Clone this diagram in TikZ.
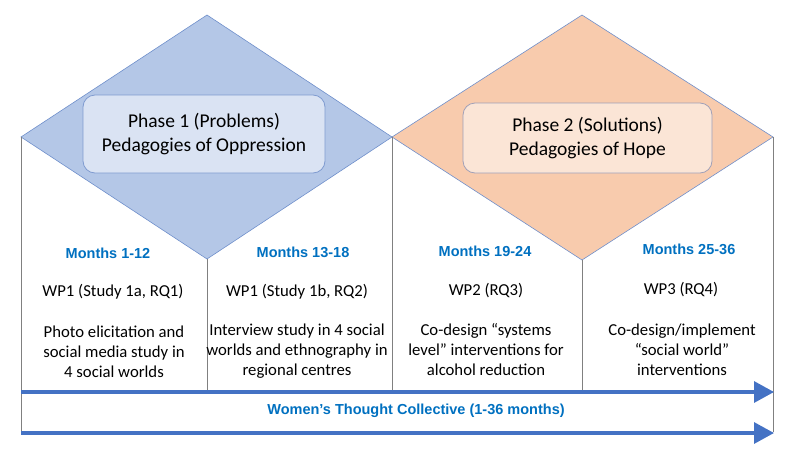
\documentclass[tikz,border=0pt]{standalone}
\usepackage{fontspec}
\setmainfont{Carlito}
\newfontfamily\headfont{Liberation Sans}
\usetikzlibrary{arrows.meta}
\definecolor{dblue}{HTML}{B4C7E7}
\definecolor{dblueline}{HTML}{6F8FCB}
\definecolor{bluebox}{HTML}{DAE3F3}
\definecolor{blueboxline}{HTML}{7F9BD0}
\definecolor{orangefill}{HTML}{F8CBAD}
\definecolor{orangebox}{HTML}{FBE5D6}
\definecolor{orangeboxline}{HTML}{A0A0B8}
\definecolor{arrowblue}{HTML}{4472C4}
\definecolor{monthblue}{HTML}{0070C0}
\definecolor{gridgray}{HTML}{808080}
\begin{document}
\begin{tikzpicture}[x=1pt,y=-1pt,
  diam/.style={draw=dblueline, line width=0.6pt},
  phasebox/.style={rounded corners=12pt, line width=0.8pt, align=center, inner sep=0pt,
     font=\fontsize{19.5}{24}\selectfont},
  month/.style={font=\headfont\bfseries\fontsize{14.5}{16}\selectfont, text=monthblue},
  body/.style={font=\fontsize{16.7}{20}\selectfont, align=center, inner sep=0pt},
  grid/.style={draw=gridgray, line width=0.7pt},
  timeline/.style={draw=arrowblue, line width=3.2pt, -{Triangle[length=20pt,width=21pt]}}
]
\useasboundingbox (0,0) rectangle (800,450);
% diamonds
\filldraw[diam, fill=dblue] (207,15) -- (392,137) -- (207,259) -- (21,137) -- cycle;
\filldraw[diam, fill=orangefill] (582,15) -- (773,137) -- (582,260) -- (392,137) -- cycle;
% grid lines
\coordinate (l1) at (21,137);  \coordinate (l2) at (21,432);
\coordinate (m1) at (207,259); \coordinate (m2) at (207,392);
\coordinate (c1) at (392,137); \coordinate (c2) at (392,392);
\coordinate (n1) at (582,260); \coordinate (n2) at (582,392);
\coordinate (r1) at (773,137); \coordinate (r2) at (773,432);
\draw[grid] (l1) -- (l2);
\draw[grid] (m1) -- (m2);
\draw[grid] (c1) -- (c2);
\draw[grid] (n1) -- (n2);
\draw[grid] (r1) -- (r2);
% phase boxes
\node[phasebox, draw=blueboxline, fill=bluebox, minimum width=242pt, minimum height=78pt] (p1) at (204,134)
  {Phase 1 (Problems)\\Pedagogies of Oppression};
\node[phasebox, draw=orangeboxline, fill=orangebox, minimum width=249pt, minimum height=70pt] (p2) at (587.5,138)
  {Phase 2 (Solutions)\\Pedagogies of Hope};
% months
\node[month] (mo1) at (108,253) {Months 1-12};
\node[month] (mo2) at (303,252) {Months 13-18};
\node[month] (mo3) at (485,251) {Months 19-24};
\node[month] (mo4) at (689,249) {Months 25-36};
% work packages
\node[body] (wp1) at (113,292) {WP1 (Study 1a, RQ1)};
\node[body] (wp2) at (297,292) {WP1 (Study 1b, RQ2)};
\node[body] (wp3) at (486,291) {WP2 (RQ3)};
\node[body] (wp4) at (681,290) {WP3 (RQ4)};
% descriptions
\node[body] (d1) at (114,352) {Photo elicitation and\\social media study in\\4 social worlds};
\node[body] (d2) at (297,351) {Interview study in 4 social\\worlds and ethnography in\\regional centres};
\node[body] (d3) at (486,350) {Co-design “systems\\level” interventions for\\alcohol reduction};
\node[body] (d4) at (682,350) {Co-design/implement\\“social world”\\interventions};
% timeline arrows
\coordinate (a1s) at (21,392); \coordinate (a1e) at (774,392);
\coordinate (a2s) at (21,433); \coordinate (a2e) at (774,433);
\draw[timeline] (a1s) -- (a1e);
\draw[timeline] (a2s) -- (a2e);
\node[month] (wtc) at (416,411) {Women’s Thought Collective (1-36 months)};
\end{tikzpicture}
\end{document}
